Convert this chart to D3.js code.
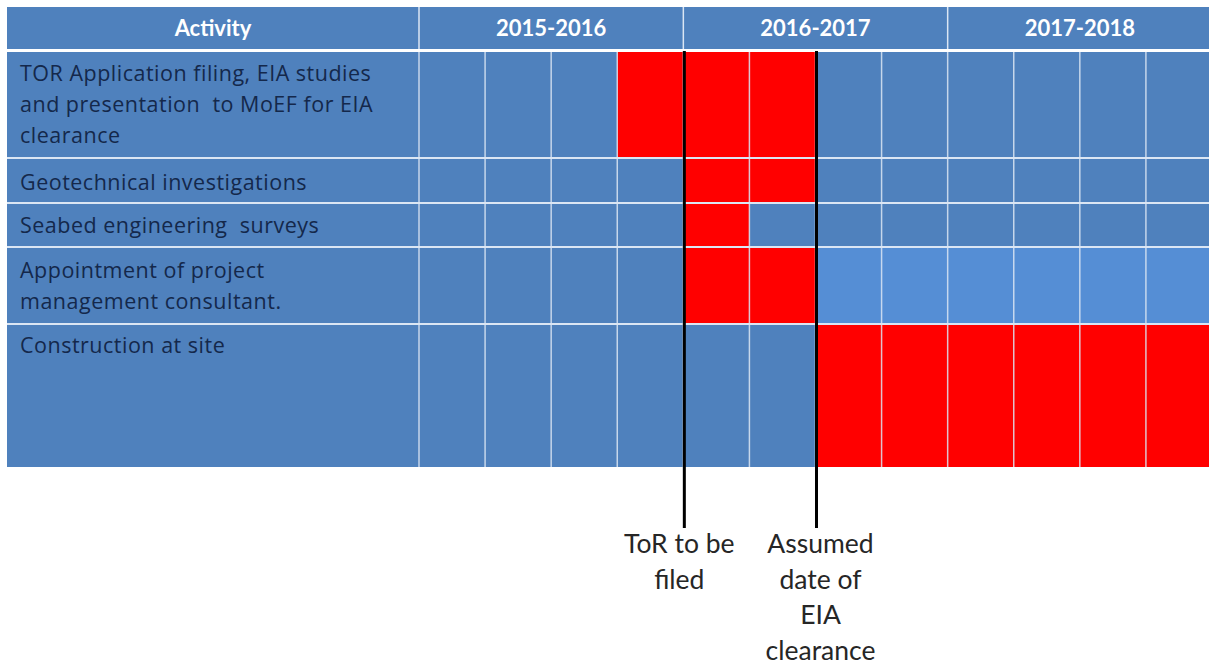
<!DOCTYPE html>
<html><head><meta charset="utf-8">
<script src="https://cdn.jsdelivr.net/npm/d3@7"></script>
<style>body{margin:0;background:#fff}svg{display:block}</style>
</head><body>
<svg id="c" width="1209" height="666"></svg>
<script>
// ---- data ----
const activityHeader = "Activity";
const periods = ["2015-2016", "2016-2017", "2017-2018"];
const quartersPerPeriod = 4;
const activities = [
  ["TOR Application filing, EIA studies", "and presentation  to MoEF for EIA", "clearance"],
  ["Geotechnical investigations"],
  ["Seabed engineering  surveys"],
  ["Appointment of project", "management consultant."],
  ["Construction at site"]
];
// active quarters [start, end) per activity (quarter index 0..11)
const scheduleStart = [3, 4, 4, 4, 6];
const scheduleEnd   = [6, 6, 5, 6, 12];
const milestoneQuarter = [4, 6];
const milestoneLabels = [["ToR to be", "filed"], ["Assumed", "date of", "EIA", "clearance"]];

// ---- layout ----
const tableLeft = 7, actRight = 419, gridRight = 1212;
const headerTop = 7, headerBottom = 49;
const rowHeights = [107, 45, 44, 77, 143];
const bodyTop = 51;
const blue = "#4f81bd", red = "#ff0000", lineCol = "#dbe6f4";

const nQ = periods.length * quartersPerPeriod;
const x = d3.scaleLinear().domain([0, nQ]).range([actRight, gridRight]);
const rowTops = rowHeights.reduce((a, h, i) => { a.push(i ? a[i-1] + rowHeights[i-1] : bodyTop); return a; }, []);
const bodyBottom = rowTops[rowTops.length-1] + rowHeights[rowHeights.length-1];
const y = d3.scaleOrdinal().domain(d3.range(activities.length)).range(rowTops);

const svg = d3.select("#c");
const font = "Lato, 'Open Sans', sans-serif";
const bodyFont = "'Open Sans', Lato, sans-serif";

// header
svg.append("rect").attr("x", tableLeft).attr("y", headerTop).attr("width", gridRight - tableLeft).attr("height", headerBottom - headerTop).attr("fill", blue);
svg.append("text").attr("x", (tableLeft + actRight) / 2).attr("y", 36).attr("text-anchor", "middle")
  .attr("font-family", font).attr("font-weight", "bold").attr("font-size", 22).attr("fill", "#fff").text(activityHeader);
svg.selectAll(".ph").data(periods).join("text")
  .attr("x", (d, i) => (x(i * quartersPerPeriod) + x((i + 1) * quartersPerPeriod)) / 2)
  .attr("y", 36).attr("text-anchor", "middle")
  .attr("font-family", font).attr("font-weight", "bold").attr("font-size", 22).attr("fill", "#fff").text(d => d);

// body background
svg.append("rect").attr("x", tableLeft).attr("y", bodyTop).attr("width", gridRight - tableLeft).attr("height", bodyBottom - bodyTop).attr("fill", blue);
// lighter strip in row 4 after its bar
svg.append("rect").attr("x", x(scheduleEnd[3])).attr("y", y(3)).attr("width", x(nQ) - x(scheduleEnd[3])).attr("height", rowHeights[3]).attr("fill", "#558ed5");

// bars
svg.selectAll(".bar").data(activities).join("rect")
  .attr("x", (d, i) => x(scheduleStart[i]))
  .attr("y", (d, i) => y(i))
  .attr("width", (d, i) => x(scheduleEnd[i]) - x(scheduleStart[i]))
  .attr("height", (d, i) => rowHeights[i])
  .attr("fill", red);

// grid lines: vertical quarter lines in body
svg.selectAll(".vq").data(d3.range(0, nQ)).join("line")
  .attr("x1", d => x(d)).attr("x2", d => x(d))
  .attr("y1", bodyTop).attr("y2", bodyBottom)
  .attr("stroke", lineCol).attr("stroke-width", 1.5).attr("opacity", 0.85);
// vertical period lines in header
svg.selectAll(".vp").data(d3.range(0, periods.length)).join("line")
  .attr("x1", d => x(d * quartersPerPeriod)).attr("x2", d => x(d * quartersPerPeriod))
  .attr("y1", headerTop).attr("y2", headerBottom)
  .attr("stroke", lineCol).attr("stroke-width", 1.5);
// horizontal row lines
svg.selectAll(".hr").data(rowTops.slice(1)).join("line")
  .attr("x1", tableLeft).attr("x2", gridRight).attr("y1", d => d).attr("y2", d => d)
  .attr("stroke", lineCol).attr("stroke-width", 2);
svg.append("rect").attr("x", tableLeft).attr("y", headerBottom).attr("width", gridRight - tableLeft).attr("height", bodyTop - headerBottom + 1).attr("fill", "#fff");

// activity labels
const lineH = 31;
const firstBase = [81, 190, 233, 278, 353];
activities.forEach((lines, i) => {
  const t = svg.append("text").attr("font-family", bodyFont).attr("font-size", 21.5)
    .attr("letter-spacing", 0.5).attr("fill", "#14284b");
  lines.forEach((ln, j) => t.append("tspan").attr("x", 20).attr("y", firstBase[i] + j * lineH).attr("xml:space", "preserve").text(ln));
});

// milestones
milestoneQuarter.forEach((q, i) => {
  const mx = x(q) + 1;
  svg.append("line").attr("x1", mx).attr("x2", mx).attr("y1", bodyTop).attr("y2", 528)
    .attr("stroke", "#000").attr("stroke-width", 3);
  const t = svg.append("text").attr("font-family", font).attr("font-size", 26.5).attr("fill", "#262626").attr("text-anchor", "middle");
  milestoneLabels[i].forEach((ln, j) => t.append("tspan").attr("x", mx + (i === 0 ? -5 : 4)).attr("y", 553 + j * 35.7).text(ln));
});
</script>
</body></html>
